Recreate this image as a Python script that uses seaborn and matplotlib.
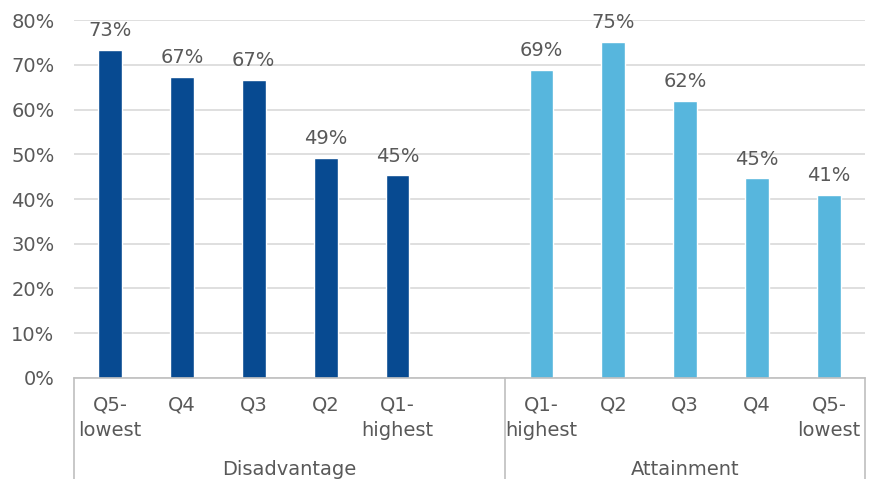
import pandas as pd
import matplotlib.pyplot as plt
import matplotlib.transforms as mtransforms
import seaborn as sns

groups = ['Disadvantage', 'Attainment']
dis_labels = ['Q5-\nlowest', 'Q4', 'Q3', 'Q2', 'Q1-\nhighest']
dis_values = [73.4, 67.3, 66.6, 49.2, 45.3]
att_labels = ['Q1-\nhighest', 'Q2', 'Q3', 'Q4', 'Q5-\nlowest']
att_values = [68.9, 75.1, 61.9, 44.6, 40.9]

colors = {'Disadvantage': '#074A91', 'Attainment': '#57B6DD'}
txt = '#595959'

sns.set_style('white')
plt.rcParams['font.family'] = ['DejaVu Sans']

keys_d = ['D%d' % i for i in range(5)]
keys_a = ['A%d' % i for i in range(5)]
order = keys_d + ['gap'] + keys_a
dat = pd.DataFrame({
    'key': keys_d + keys_a,
    'value': dis_values + att_values,
    'group': ['Disadvantage'] * 5 + ['Attainment'] * 5,
})

fig = plt.figure(figsize=(8.71, 4.79), dpi=100)
ax = fig.add_axes([0.085, 0.211, 0.908, 0.747])
sns.barplot(data=dat, x='key', y='value', hue='group', order=order,
            palette=colors, dodge=False, width=0.33, saturation=1,
            legend=False, ax=ax)

for c in ax.containers:
    ax.bar_label(c, fmt='%.0f%%', padding=7, fontsize=14, color=txt)

ax.set_ylim(0, 80)
ax.set_yticks(range(0, 81, 10))
ax.set_yticklabels(['%d%%' % v for v in range(0, 81, 10)], fontsize=14, color=txt)
ax.yaxis.grid(True, color='#D9D9D9', linewidth=1.2)
ax.set_axisbelow(True)
ax.set_xlim(-0.5, 10.5)
ax.set_xticks(range(11))
ax.set_xticklabels(dis_labels + [''] + att_labels, fontsize=14, color=txt,
                   linespacing=1.4, va='top')
ax.tick_params(axis='x', length=0, pad=13)
ax.tick_params(axis='y', length=0, pad=14)
ax.set_xlabel('')
ax.set_ylabel('')
for s in ['top', 'right', 'left']:
    ax.spines[s].set_visible(False)
ax.spines['bottom'].set_color('#BFBFBF')
ax.spines['bottom'].set_linewidth(1.2)

# group separators and group labels
trans = mtransforms.blended_transform_factory(ax.transData, ax.transAxes)
for xs in [-0.5, 5.5, 10.5]:
    ax.plot([xs, xs], [0, -0.285], transform=trans, color='#BFBFBF',
            linewidth=1.2, clip_on=False)
ax.text(2.5, -0.255, groups[0], transform=trans, ha='center', va='center',
        fontsize=14, color=txt)
ax.text(8.0, -0.255, groups[1], transform=trans, ha='center', va='center',
        fontsize=14, color=txt)

fig.savefig('out.png', dpi=100)
